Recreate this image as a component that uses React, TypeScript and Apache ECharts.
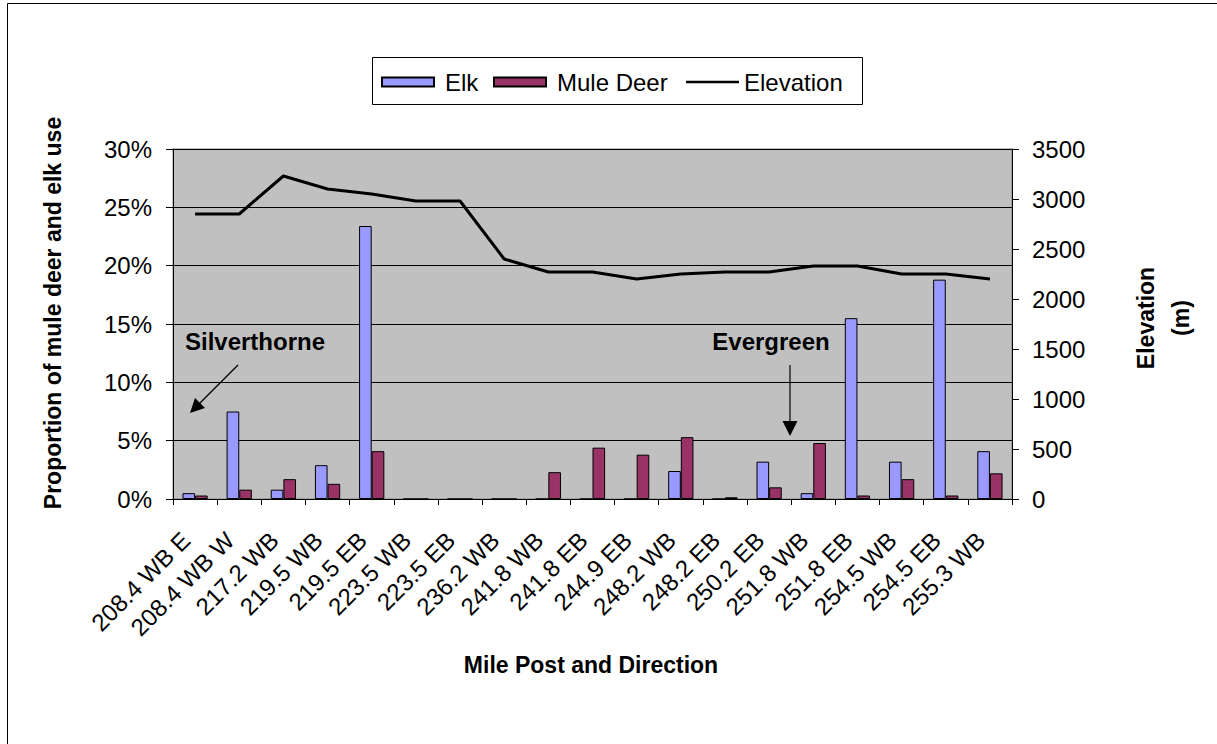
import React, { useEffect, useRef } from "react";
import * as echarts from "echarts";

// Mile post / direction of each monitored crossing
const categories = [
  "208.4 WB E", "208.4 WB W", "217.2 WB", "219.5 WB", "219.5 EB", "223.5 WB",
  "223.5 EB", "236.2 WB", "241.8 WB", "241.8 EB", "244.9 EB", "248.2 WB",
  "248.2 EB", "250.2 EB", "251.8 WB", "251.8 EB", "254.5 WB", "254.5 EB", "255.3 WB",
];

// Proportion of use (%)
const elk = [0.5, 7.5, 0.8, 2.9, 23.4, 0, 0, 0, 0, 0, 0, 2.4, 0, 3.2, 0.5, 15.5, 3.2, 18.8, 4.1];
const muleDeer = [0.3, 0.8, 1.7, 1.3, 4.1, 0, 0, 0, 2.3, 4.4, 3.8, 5.3, 0.15, 1.0, 4.8, 0.3, 1.7, 0.3, 2.2];

// Elevation (m)
const elevation = [2850, 2850, 3230, 3100, 3050, 2980, 2980, 2400, 2270, 2270, 2200, 2250, 2270, 2270, 2330, 2330, 2250, 2250, 2200];

const FONT = "'Liberation Sans', Arial, Helvetica, sans-serif";

export default function App() {
  const ref = useRef<HTMLDivElement>(null);

  useEffect(() => {
    if (!ref.current) return;
    const chart = echarts.init(ref.current, undefined, { renderer: "svg" });

    const legendText = { fontFamily: FONT, fontSize: 24, color: "#000" };

    chart.setOption({
      animation: false,
      backgroundColor: "#fff",
      textStyle: { fontFamily: FONT, color: "#000" },
      grid: {
        left: 173,
        right: 205,
        top: 149,
        bottom: 245,
        show: true,
        backgroundColor: "#C0C0C0",
        borderColor: "#808080",
        borderWidth: 1,
        containLabel: false,
      },
      legend: [
        {
          data: ["Elk"],
          left: 381,
          top: 70,
          padding: 0,
          itemWidth: 52,
          itemHeight: 9,
          icon: "rect",
          textStyle: { ...legendText, padding: [0, 0, 0, 6] },
        },
        {
          data: ["Mule Deer"],
          left: 493,
          top: 70,
          padding: 0,
          itemWidth: 52,
          itemHeight: 9,
          icon: "rect",
          textStyle: { ...legendText, padding: [0, 0, 0, 6] },
        },
        {
          data: ["Elevation"],
          left: 686,
          top: 70,
          padding: 0,
          itemWidth: 53,
          itemHeight: 2.5,
          icon: "rect",
          itemStyle: { color: "#000", borderWidth: 0 },
          textStyle: { ...legendText },
        },
      ],
      xAxis: {
        type: "category",
        data: categories,
        boundaryGap: true,
        axisLine: { show: true, lineStyle: { color: "#000", width: 1 } },
        axisTick: { show: true, interval: 0, length: 6, lineStyle: { color: "#000" } },
        axisLabel: {
          interval: 0,
          rotate: 45,
          margin: 28,
          padding: [0, 13, 0, 0],
          fontFamily: FONT,
          fontSize: 24,
          color: "#000",
        },
        splitLine: { show: false },
      },
      yAxis: [
        {
          type: "value",
          min: 0,
          max: 30,
          interval: 5,
          position: "left",
          axisLine: { show: true, lineStyle: { color: "#000", width: 1 } },
          axisTick: { show: true, length: 7, lineStyle: { color: "#000" } },
          axisLabel: { formatter: "{value}%", margin: 21, fontFamily: FONT, fontSize: 24, color: "#000" },
          splitLine: { show: true, lineStyle: { color: "#000", width: 1 } },
        },
        {
          type: "value",
          min: 0,
          max: 3500,
          interval: 500,
          position: "right",
          axisLine: { show: true, lineStyle: { color: "#000", width: 1 } },
          axisTick: { show: true, length: 7, lineStyle: { color: "#000" } },
          axisLabel: {
            formatter: (v: number) => String(v),
            margin: 20,
            fontFamily: FONT,
            fontSize: 24,
            color: "#000",
          },
          splitLine: { show: false },
        },
      ],
      series: [
        {
          name: "Elk",
          type: "bar",
          data: elk,
          yAxisIndex: 0,
          barWidth: "28.6%",
          barGap: "0%",
          itemStyle: { color: "#9999FF", borderColor: "#000", borderWidth: 1 },
        },
        {
          name: "Mule Deer",
          type: "bar",
          data: muleDeer,
          yAxisIndex: 0,
          barWidth: "28.6%",
          barGap: "0%",
          itemStyle: { color: "#993366", borderColor: "#000", borderWidth: 1 },
        },
        {
          name: "Elevation",
          type: "line",
          data: elevation,
          yAxisIndex: 1,
          symbol: "none",
          showSymbol: false,
          z: 5,
          lineStyle: { color: "#000", width: 3 },
          itemStyle: { color: "#000" },
        },
      ],
      graphic: [
        // outer chart frame
        {
          type: "rect",
          shape: { x: 7.5, y: 3.5, width: 1300, height: 800 },
          style: { fill: "none", stroke: "#000", lineWidth: 1 },
          silent: true,
          z: -10,
        },
        // legend frame
        {
          type: "rect",
          shape: { x: 372.5, y: 57.5, width: 490, height: 47 },
          style: { fill: "none", stroke: "#000", lineWidth: 1 },
          silent: true,
        },
        {
          type: "text",
          x: 53,
          y: 313,
          rotation: Math.PI / 2,
          style: {
            text: "Proportion of mule deer and elk use",
            font: `bold 23px ${FONT}`,
            fill: "#000",
            align: "center",
            verticalAlign: "middle",
          },
        },
        {
          type: "text",
          x: 1163,
          y: 318,
          rotation: Math.PI / 2,
          style: {
            text: "Elevation\n(m)",
            font: `bold 23px ${FONT}`,
            fill: "#000",
            align: "center",
            verticalAlign: "middle",
            lineHeight: 35,
          },
        },
        {
          type: "text",
          x: 591,
          y: 665,
          style: {
            text: "Mile Post and Direction",
            font: `bold 23px ${FONT}`,
            fill: "#000",
            align: "center",
            verticalAlign: "middle",
          },
        },
        {
          type: "text",
          x: 255,
          y: 341,
          z: 10,
          style: {
            text: "Silverthorne",
            font: `bold 24px ${FONT}`,
            fill: "#000",
            align: "center",
            verticalAlign: "middle",
          },
        },
        {
          type: "line",
          z: 10,
          shape: { x1: 238, y1: 365, x2: 198, y2: 405 },
          style: { stroke: "#000", lineWidth: 1.2 },
        },
        {
          type: "polygon",
          z: 10,
          shape: { points: [[190, 413], [205, 408], [195, 398]] },
          style: { fill: "#000" },
        },
        {
          type: "text",
          x: 771,
          y: 341,
          z: 10,
          style: {
            text: "Evergreen",
            font: `bold 24px ${FONT}`,
            fill: "#000",
            align: "center",
            verticalAlign: "middle",
          },
        },
        {
          type: "line",
          z: 10,
          shape: { x1: 790, y1: 365, x2: 790, y2: 424 },
          style: { stroke: "#000", lineWidth: 1.2 },
        },
        {
          type: "polygon",
          z: 10,
          shape: { points: [[790, 436], [782.5, 421], [797.5, 421]] },
          style: { fill: "#000" },
        },
      ],
    });

    return () => chart.dispose();
  }, []);

  return (
    <div
      ref={ref}
      style={{ position: "absolute", left: 0, top: 0, width: 1217, height: 744, background: "#fff" }}
    />
  );
}
